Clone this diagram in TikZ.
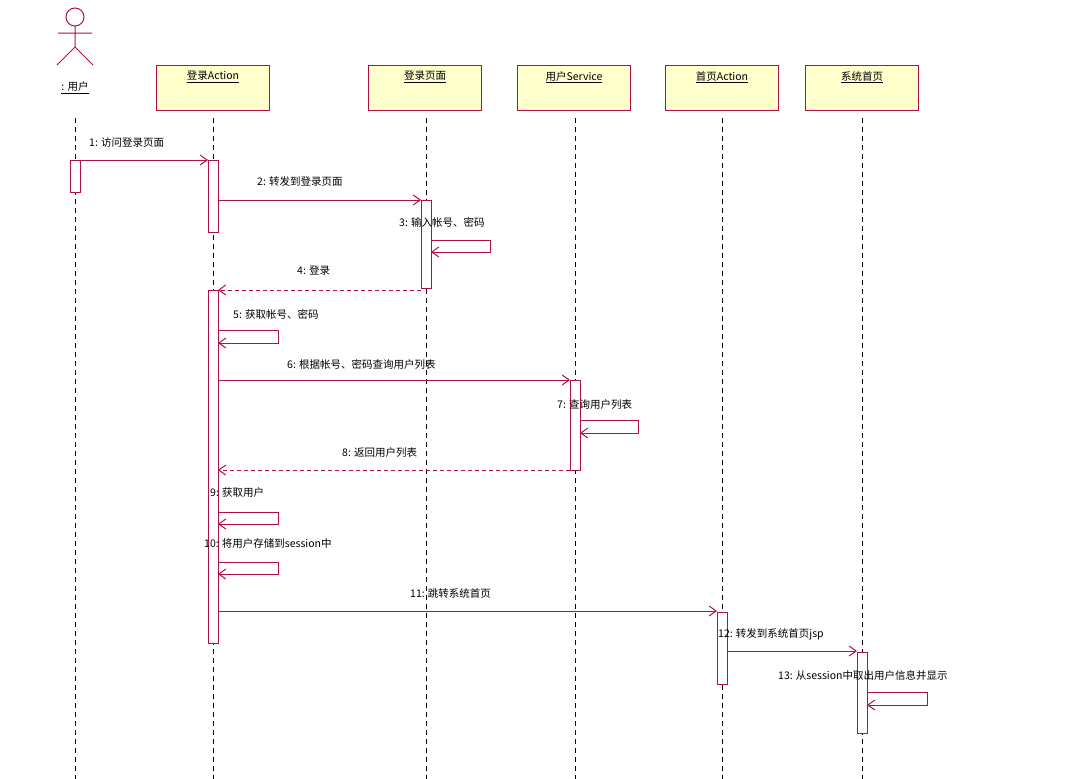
\documentclass[tikz,border=0pt]{standalone}
\usepackage{fontspec}
\setmainfont{Noto Sans CJK SC}
\usetikzlibrary{arrows.meta}
\definecolor{lc}{HTML}{B0104A}
\definecolor{bf}{HTML}{FFFFCC}
\begin{document}
\begin{tikzpicture}[x=1pt,y=-1pt,
 obj/.style={draw=lc,fill=bf,minimum width=113pt,minimum height=45pt,anchor=north,inner sep=0pt,line width=1pt},
 life/.style={line width=1pt,dash pattern=on 5pt off 4pt},
 act/.style={draw=lc,fill=white,line width=1pt},
 msg/.style={draw=lc,line width=1pt,-{Straight Barb[length=7pt,width=10pt]}},
 ret/.style={msg,dash pattern=on 4pt off 3pt},
 lab/.style={font=\fontsize{10.5}{12}\selectfont,inner sep=1pt}]
\useasboundingbox (0,0) rectangle (1080,779);
% actor
\draw[lc,line width=1pt] (75,17) circle (9);
\draw[lc,line width=1pt] (75,26)--(75,47) (58,33)--(92,33) (57,65)--(75,47)--(93,65);
\node[lab] (u) at (75,88) {\underline{: 用户}};
% objects
\node[obj] (a) at (213,65) {};
\node[lab,anchor=north] at (213,70) {\underline{登录Action}};
\node[obj] (p) at (425,65) {};
\node[lab,anchor=north] at (425,70) {\underline{登录页面}};
\node[obj] (s) at (574,65) {};
\node[lab,anchor=north] at (574,70) {\underline{用户Service}};
\node[obj] (h) at (722,65) {};
\node[lab,anchor=north] at (722,70) {\underline{首页Action}};
\node[obj] (j) at (862,65) {};
\node[lab,anchor=north] at (862,70) {\underline{系统首页}};
% lifelines
\foreach \x in {75,213,426,575,722,862} \draw[life] (\x,118)--(\x,779);
% activations
\draw[act] (70,160) rectangle (80,192);
\draw[act] (208,160) rectangle (218,232);
\draw[act] (208,290) rectangle (218,643);
\draw[act] (421,200) rectangle (431,288);
\draw[act] (570,380) rectangle (580,470);
\draw[act] (717,612) rectangle (727,684);
\draw[act] (857,652) rectangle (867,733);
% messages
\draw[msg] (80,160)--(208,160); \node[lab,anchor=west] at (88,143) {1: 访问登录页面};
\draw[msg] (218,200)--(421,200); \node[lab,anchor=west] at (256,182) {2: 转发到登录页面};
\draw[msg] (431,240)--(490,240)--(490,252)--(431,252); \node[lab,anchor=west] at (398,222) {3: 输入帐号、密码};
\draw[ret] (421,290)--(218,290); \node[lab,anchor=west] at (296,271) {4: 登录};
\draw[msg] (218,330)--(278,330)--(278,343)--(218,343); \node[lab,anchor=west] at (232,314) {5: 获取帐号、密码};
\draw[msg] (218,380)--(570,380); \node[lab,anchor=west] at (286,364) {6: 根据帐号、密码查询用户列表};
\draw[msg] (580,420)--(638,420)--(638,433)--(580,433); \node[lab,anchor=west] at (556,405) {7: 查询用户列表};
\draw[ret] (570,470)--(218,470); \node[lab,anchor=west] at (341,453) {8: 返回用户列表};
\draw[msg] (218,512)--(278,512)--(278,524)--(218,524); \node[lab,anchor=west] at (209,493) {9: 获取用户};
\draw[msg] (218,562)--(278,562)--(278,574)--(218,574); \node[lab,anchor=west] at (203,544) {10: 将用户存储到session中};
\draw[msg] (218,611)--(717,611); \node[lab,anchor=west] at (409,593) {11: 跳转系统首页};
\draw[msg] (727,651)--(857,651); \node[lab,anchor=west] at (717,634) {12: 转发到系统首页jsp};
\draw[msg] (867,692)--(927,692)--(927,705)--(867,705); \node[lab,anchor=west] at (777,675) {13: 从session中取出用户信息并显示};
\end{tikzpicture}
\end{document}
